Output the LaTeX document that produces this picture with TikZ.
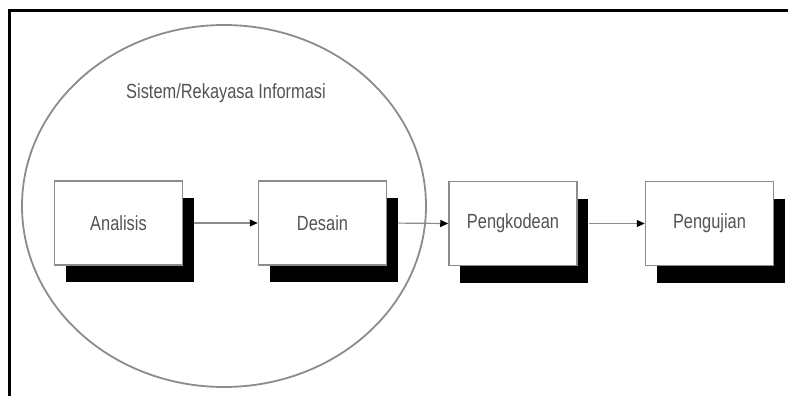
\documentclass[tikz,border=0pt]{standalone}
\usepackage{fontspec}
\newfontfamily\lab[FakeStretch=0.8]{Liberation Sans}
\usetikzlibrary{shadows,arrows.meta,shapes.geometric}
\definecolor{txt}{gray}{0.33}
\definecolor{edge}{gray}{0.55}
\tikzset{
  stage/.style={draw=edge, line width=1.5pt, fill=white, minimum width=128pt, minimum height=84pt,
    inner sep=0pt, text=txt, font=\lab\fontsize{20.5}{24}\selectfont,
    drop shadow={shadow xshift=11pt, shadow yshift=-17pt, fill=black, opacity=1}},
  flow/.style={draw=edge, line width=1.2pt, shorten <=11pt,
    -{Triangle[length=8pt,width=7pt,fill=black,color=black]}},
  frameline/.style={line width=2.5pt, black},
}
\begin{document}
\begin{tikzpicture}[x=1pt,y=-1pt]
\useasboundingbox (0,0) rectangle (788,396);
\fill[white] (0,0) rectangle (788,396);
% frame
\coordinate (fr) at (788,10.5);
\coordinate (fc) at (9.5,10.5);
\coordinate (fb) at (9.5,396);
\draw[frameline] (fr) -- (fc) -- (fb);
% ellipse
\node[draw=edge, line width=1.8pt, ellipse, minimum width=404pt, minimum height=362pt, inner sep=0pt] (sys) at (224,206) {};
\node[text=txt, font=\lab\fontsize{20.5}{24}\selectfont] (title) at (226,93) {Sistem/Rekayasa Informasi};
% stages
\node[stage] (a) at (118.5,223) {Analisis};
\node[stage] (d) at (322.5,223) {Desain};
\node[stage] (p) at (513,223.5) {Pengkodean};
\node[stage] (u) at (709.5,223.5) {Pengujian};
% arrows
\draw[flow] (a.east) -- (d.west);
\draw[flow] (d.east) -- (p.west);
\draw[flow] (p.east) -- (u.west);
\end{tikzpicture}
\end{document}
